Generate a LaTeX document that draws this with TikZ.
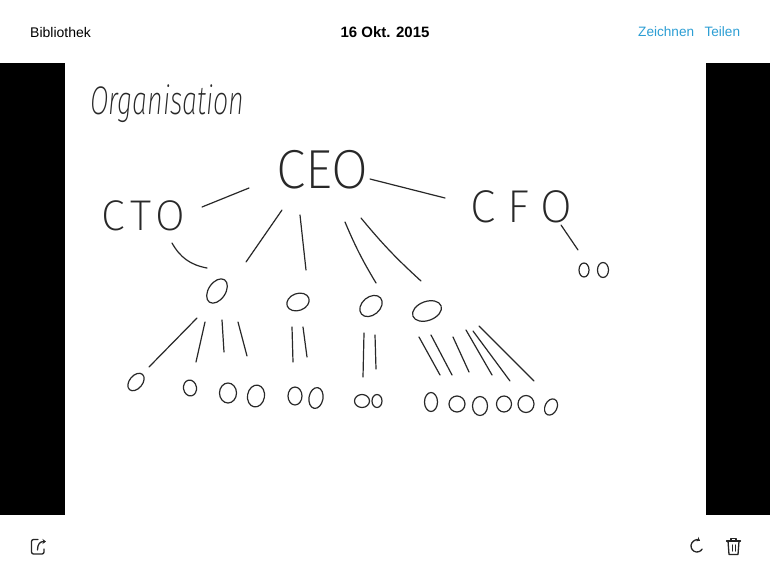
\documentclass[tikz,border=0pt]{standalone}
\usepackage{fontspec}
\setmainfont{Liberation Sans}
\newfontfamily\hand{Fira Sans ExtraLight}
\newfontfamily\handwide[LetterSpace=14]{Fira Sans ExtraLight}
\newfontfamily\handwider[LetterSpace=26]{Fira Sans ExtraLight}
\usetikzlibrary{positioning, shapes.geometric, arrows.meta}
\definecolor{iosblue}{RGB}{44,158,212}
\definecolor{ink}{RGB}{40,40,40}

\begin{document}
\begin{tikzpicture}
[
    x=1pt, y=-1pt, line cap=round, line join=round,
    % Everything is placed in screen pixels, y grows downwards
    % Ovals are named O-level-index, strokes S-index-a ... S-index-b
]

%=================================== Start ===================================
\tikzstyle{bar}    = [fill=black]
\tikzstyle{ui}     = [font=\fontsize{13.6}{16}\selectfont, inner sep=0pt, anchor=west]
\tikzstyle{icon}   = [draw=black!85, line width=1.3pt]
\tikzstyle{oval}   = [ellipse, draw=ink, line width=1.2pt, inner sep=0pt, outer sep=0pt]
\tikzstyle{stroke} = [draw=ink, line width=1.2pt]
\tikzstyle{word}   = [text=ink, inner sep=0pt, anchor=base west, transform shape]

\useasboundingbox (0,0) rectangle (770,578);
\fill[white] (0,0) rectangle (770,578);

% Toolbar on top
\node[ui, font=\fontsize{14}{16}\selectfont] (lib) at (30,32) {Bibliothek};
\node[ui, anchor=center, font=\fontsize{15}{17}\selectfont\bfseries] (date) at (385,32) {16 Okt. 2015};
\node[ui, text=iosblue] (zeichnen) at (638,32) {Zeichnen};
\node[ui, text=iosblue, right=10pt of zeichnen] (teilen) {Teilen};

% Black side bars
\path[bar] (0,63) rectangle (65,515);
\path[bar] (706,63) rectangle (770,515);

% Handwritten words
\node[word, font=\hand\itshape\fontsize{40}{40}\selectfont, xscale=0.67] (title) at (90,114) {Organisation};
\node[word, font=\hand\fontsize{55}{55}\selectfont, xscale=0.97] (ceo) at (276,188) {CEO};
\node[word, font=\handwide\fontsize{43}{43}\selectfont] (cto) at (101,230) {CTO};
\node[word, font=\handwider\fontsize{46}{46}\selectfont] (cfo) at (470,222) {CFO};

% Draw ovals
\foreach \name/\x/\y/\w/\h/\r in {
    O-1-0/217/291/27/17/56, O-1-1/298/302/23/17/20, O-1-2/371/306/25/18/40,
    O-1-3/427/311/30/19/20, O-1-4/584/270/10/14/0,  O-1-5/603/270/11/15/0,
    O-2-0/136/382/20/13/50, O-2-1/190/388/13/16/10, O-2-2/228/393/17/20/0,
    O-2-3/256/396/17/22/-10, O-2-4/295/396/14/18/0, O-2-5/316/398/14/21/-10,
    O-2-6/362/401/15/13/0,  O-2-7/377/401/10/13/0,  O-2-8/431/402/13/19/0,
    O-2-9/457/404/16/16/0,  O-2-10/480/406/15/19/0, O-2-11/504/404/15/16/0,
    O-2-12/526/404/16/17/0, O-2-13/551/407/12/17/-25}
    \node[oval, minimum width=\w pt, minimum height=\h pt, rotate=\r] (\name) at (\x,\y) {};

% Draw strokes
\foreach \i/\xa/\ya/\xb/\yb/\b in {
    1/202/207/249/188/0,   2/370/179/445/198/0,   3/561/225/578/250/0,
    4/172/243/207/268/-25, 5/282/210/246/262/0,   6/300/215/306/270/0,
    7/345/222/376/283/-4,  8/361/218/421/281/-4,  9/197/318/149/367/0,
    10/205/322/196/362/0,  11/222/320/224/352/0,  12/238/322/247/356/0,
    13/292/327/293/362/0,  14/303/327/307/357/0,  15/364/333/363/377/0,
    16/375/335/376/369/0,  17/419/337/440/375/0,  18/431/335/452/375/0,
    19/453/337/469/372/0,  20/466/330/492/375/0,  21/473/331/510/381/0,
    22/479/326/534/381/0}
{
    \coordinate (S-\i-a) at (\xa,\ya);
    \coordinate (S-\i-b) at (\xb,\yb);
    \path[stroke] (S-\i-a) to[bend left=\b] (S-\i-b);
}

% Icons at the bottom
\draw[icon, rounded corners=2pt] (38,539.5) -- (31.5,539.5) -- (31.5,554) -- (44,554) -- (44,549);
\draw[icon, -{Stealth[length=3.5pt,width=5pt]}] (37.5,550) .. controls (37.5,544) and (40,541.5) .. (46,541.5);
\draw[icon, -{Stealth[length=3.5pt,width=5pt]}] (697,546) ++(30:6) arc[start angle=30, end angle=300, radius=6];
\draw[icon] (726.5,541) -- (740.5,541);
\draw[icon] (731,541) -- (731,538.5) -- (736,538.5) -- (736,541);
\draw[icon] (728,541) -- (729,554.5) -- (738,554.5) -- (739,541);
\draw[icon, line width=1.1pt] (732.2,545) -- (732.2,551);
\draw[icon, line width=1.1pt] (735.8,545) -- (735.8,551);
%==================================== END ====================================

\end{tikzpicture}
\end{document}
